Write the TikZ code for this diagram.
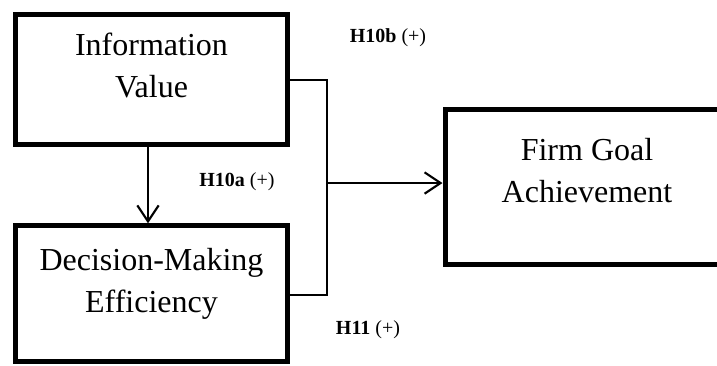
\documentclass[tikz,border=0pt]{standalone}
\usepackage{fontspec}
\setmainfont{Liberation Serif}
\usetikzlibrary{arrows.meta}
\begin{document}
\begin{tikzpicture}[x=0.75pt,y=-0.75pt,
  box/.style={draw=black,line width=3.75pt,rectangle,inner sep=0pt},
  boxtext/.style={align=center,font=\fontsize{24}{31.5}\selectfont,inner sep=0pt},
  hyp/.style={font=\fontsize{15}{18}\selectfont,inner sep=0pt},
  link/.style={draw=black,line width=1.1pt},
  arrow/.style={draw=black,line width=1.6pt,-{Straight Barb[length=12pt,width=16pt,line width=1.6pt]}}]
  \useasboundingbox (0,0) rectangle (717,365);
  % construct boxes
  \node[box,minimum width=204pt,minimum height=97.5pt] (iv) at (151.5,79.5) {};
  \node[box,minimum width=204pt,minimum height=102pt] (dm) at (151.5,293.8) {};
  \node[box,minimum width=217.5pt,minimum height=116.25pt] (fg) at (590,186.7) {};
  % box labels
  \node[boxtext] (ivt) at (151.5,65) {Information\\Value};
  \node[boxtext] (dmt) at (151.5,283.5) {Decision-Making\\Efficiency};
  \node[boxtext] (fgt) at (587,170.5) {Firm Goal\\Achievement};
  % hypothesis labels
  \node[hyp] (h10b) at (388,38) {\textbf{H10b} (+)};
  \node[hyp] (h10a) at (237,182) {\textbf{H10a} (+)};
  \node[hyp] (h11) at (368,330) {\textbf{H11} (+)};
  % joint path into the outcome
  \coordinate (jt) at (327,80);
  \coordinate (jb) at (327,295);
  \coordinate (jm) at (327,183);
  \coordinate (ax) at (148,0);
  \draw[link] (iv.east |- jt) -- (jt) -- (jb) -- (dm.east |- jb);
  \draw[arrow] (jm) -- (fg.west |- jm);
  \draw[arrow] (iv.south -| ax) -- (dm.north -| ax);
\end{tikzpicture}
\end{document}
